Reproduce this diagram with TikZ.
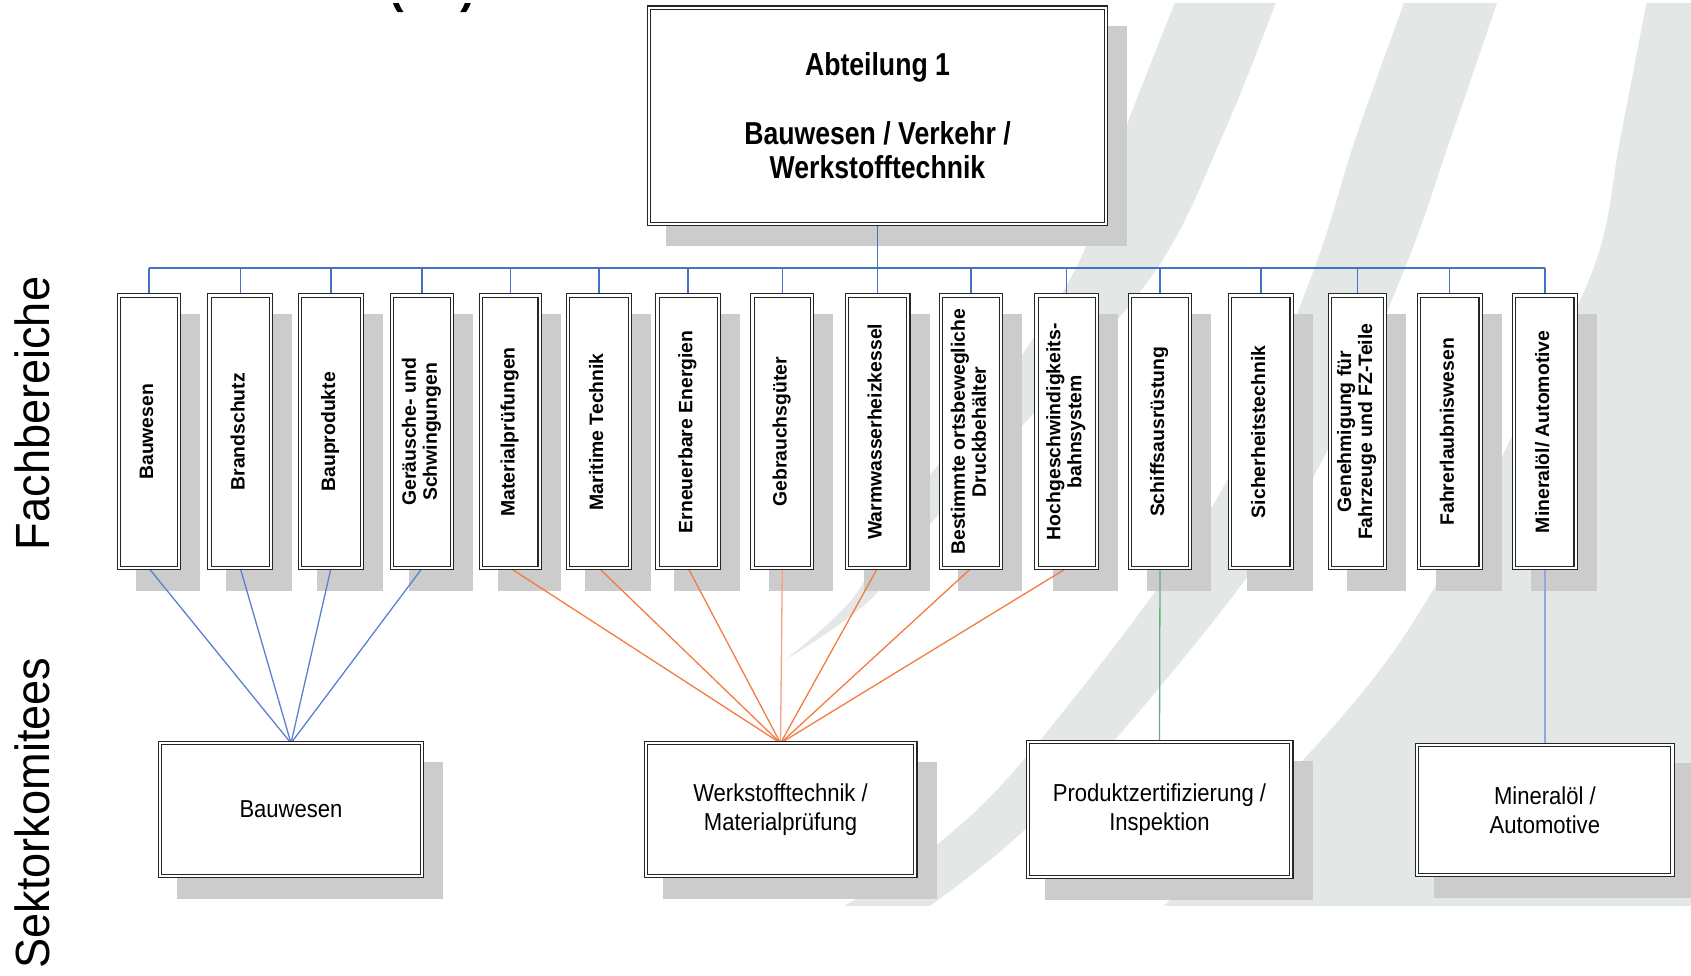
\documentclass[tikz,border=0pt]{standalone}
\usepackage{fontspec}
\usepackage{graphicx}
\setmainfont{Liberation Sans}
\newfontfamily\headfont[FakeStretch=0.84]{Liberation Sans}
\newfontfamily\sectfont[FakeStretch=0.9]{Liberation Sans}
\newfontfamily\sidefont[FakeStretch=0.94]{Liberation Sans}
\usetikzlibrary{calc}
\pgfdeclarelayer{art}
\pgfdeclarelayer{shade}
\pgfdeclarelayer{wires}
\pgfsetlayers{art,shade,wires,main}
\definecolor{tint}{HTML}{E3E8E6}
\definecolor{shadowgray}{HTML}{CCCCCC}
\definecolor{busblue}{HTML}{4472C4}
\definecolor{baublue}{HTML}{5B80D2}
\definecolor{wsorange}{HTML}{F57B43}
\definecolor{wslight}{HTML}{F7A283}
\definecolor{pzgreen}{HTML}{62AE7E}
\definecolor{minblue}{HTML}{8EAADB}
\newcommand{\vtext}[1]{\rotatebox{90}{\begin{tabular}{@{}c@{}}#1\end{tabular}}}
\tikzset{
  dbox/.style={draw=black!85, line width=1.1pt, double=white, double distance=2.1pt,
    fill=white, inner sep=0pt, outer sep=0pt, align=center},
  fachbox/.style={dbox, minimum height=272.7pt, font=\bfseries\fontsize{19.4}{21}\selectfont},
  sektbox/.style={dbox, font=\sectfont\fontsize{24.5}{29}\selectfont},
  sidelabel/.style={rotate=90, inner sep=0pt, font=\sidefont\fontsize{48}{48}\selectfont},
  busline/.style={draw=busblue, line width=1.4pt},
  wire/.style={line width=1.3pt},
}
\begin{document}
\begin{tikzpicture}[x=1pt, y=-1pt]
\useasboundingbox (0,0) rectangle (1691,976);

% department box
\node[dbox, minimum width=456.7pt, minimum height=216.2pt,
      font=\headfont\bfseries\fontsize{31.7}{34.5}\selectfont] (top) at (877.5,115.75)
  {Abteilung 1\\[34.5pt]Bauwesen / Verkehr /\\Werkstofftechnik};

% specialist areas
\node[fachbox, minimum width=60pt]   (f1)  at (148.85,431.8) {\vtext{Bauwesen}};
\node[fachbox, minimum width=61.7pt] (f2)  at (240.3,431.8)  {\vtext{Brandschutz}};
\node[fachbox, minimum width=61.7pt] (f3)  at (331,431.8)    {\vtext{Bauprodukte}};
\node[fachbox, minimum width=60pt]   (f4)  at (422.15,431.8) {\vtext{Geräusche- und\\Schwingungen}};
\node[fachbox, minimum width=58.4pt] (f5)  at (510.35,431.8) {\vtext{Materialprüfungen}};
\node[fachbox, minimum width=61.7pt] (f6)  at (599,431.8)    {\vtext{Maritime Technik}};
\node[fachbox, minimum width=61.4pt] (f7)  at (688.15,431.8) {\vtext{Erneuerbare Energien}};
\node[fachbox, minimum width=59.7pt] (f8)  at (782.3,431.8)  {\vtext{Gebrauchsgüter}};
\node[fachbox, minimum width=61.7pt] (f9)  at (877.5,431.8)  {\vtext{Warmwasserheizkessel}};
\node[fachbox, minimum width=60pt]   (f10) at (971.15,431.8) {\vtext{Bestimmte ortsbewegliche\\Druckbehälter}};
\node[fachbox, minimum width=60.4pt] (f11) at (1066.65,431.8) {\vtext{Hochgeschwindigkeits-\\bahnsystem}};
\node[fachbox, minimum width=60pt]   (f12) at (1160,431.8)   {\vtext{Schiffsausrüstung}};
\node[fachbox, minimum width=61.4pt] (f13) at (1260.85,431.8) {\vtext{Sicherheitstechnik}};
\node[fachbox, minimum width=55.3pt] (f14) at (1357.5,431.8) {\vtext{Genehmigung für\\Fahrzeuge und FZ-Teile}};
\node[fachbox, minimum width=61.7pt] (f15) at (1449.7,431.8) {\vtext{Fahrerlaubniswesen}};
\node[fachbox, minimum width=61.4pt] (f16) at (1544.85,431.8) {\vtext{Mineralöl/ Automotive}};

% sector committees
\node[sektbox, minimum width=261.7pt, minimum height=132.7pt] (s1) at (291,809.5) {Bauwesen};
\node[sektbox, minimum width=269.7pt, minimum height=132.7pt] (s2) at (780.5,809.5) {Werkstofftechnik /\\Materialprüfung};
\node[sektbox, minimum width=263.7pt, minimum height=134.7pt] (s3) at (1159.5,809.5) {Produktzertifizierung /\\Inspektion};
\node[sektbox, minimum width=255.2pt, minimum height=130.2pt] (s4) at (1544.85,809.75) {Mineralöl /\\Automotive};

% row labels
\node[sidelabel] (fach) at (32,413.5) {Fachbereiche};
\node[sidelabel] (sekt) at (32,813) {Sektorkomitees};

% heading fragment cut by the upper edge
\begin{scope}
  \clip (0,3.5) rectangle (1691,60);
  \node[anchor=base west, inner sep=0pt, font=\bfseries\fontsize{44}{44}\selectfont] (paren) at (389,4) {(\hspace{57pt})};
\end{scope}

\coordinate (bus) at (0,268);

% background swooshes
\begin{pgfonlayer}{art}
  \begin{scope}
    \clip (0,3.5) rectangle (1691,905);
    \fill[tint] plot[smooth, tension=0.6] coordinates {(1176,0) (1125,130) (1078,264) (990,400) (900,513) (853,598) (785,660)}
      -- plot[smooth, tension=0.6] coordinates {(785,660) (870,600) (940,513) (1055,390) (1160,264) (1225,130) (1277,0)} -- cycle;
    \fill[tint] plot[smooth, tension=0.6] coordinates {(1405,0) (1355,140) (1310,280) (1216,500) (1046,733) (939,843) (820,920)}
      -- plot[smooth, tension=0.6] coordinates {(910,920) (1010,843) (1132,720) (1300,500) (1400,280) (1450,140) (1498,0)} -- cycle;
    \fill[tint] plot[smooth, tension=0.6] coordinates {(1647,0) (1620,140) (1595,264) (1520,420) (1433,590) (1339,720) (1150,920)}
      -- (1691,920) -- (1691,0) -- cycle;
  \end{scope}
\end{pgfonlayer}

% drop shadows
\begin{pgfonlayer}{shade}
  \foreach \n in {top,f1,f2,f3,f4,f5,f6,f7,f8,f9,f10,f11,f12,f13,f14,f15,f16,s1,s2,s3,s4}
    \fill[shadowgray] ($(\n.south west)+(16.85pt,-22.65pt)$) rectangle ($(\n.north east)+(21.15pt,-18.35pt)$);
\end{pgfonlayer}

% connectors
\begin{pgfonlayer}{wires}
  \draw[busline] (f1.north |- bus) -- (f16.north |- bus);
  \draw[busline] (top.south) -- (top.south |- bus);
  \foreach \n in {f1,f2,f3,f4,f5,f6,f7,f8,f9,f10,f11,f12,f13,f14,f15,f16}
    \draw[busline] (\n.north) -- (\n.north |- bus);
  \foreach \n in {f1,f2,f3,f4}
    \draw[wire, draw=baublue] (\n.south) -- (s1.north);
  \foreach \n in {f5,f6,f7,f9,f10,f11}
    \draw[wire, draw=wsorange] (\n.south) -- (s2.north);
  \draw[wire, draw=wslight] (f8.south) -- (s2.north);
  \draw[wire, draw=pzgreen] (f12.south) -- (s3.north);
  \draw[wire, draw=minblue] (f16.south) -- (s4.north);
\end{pgfonlayer}
\end{tikzpicture}
\end{document}
